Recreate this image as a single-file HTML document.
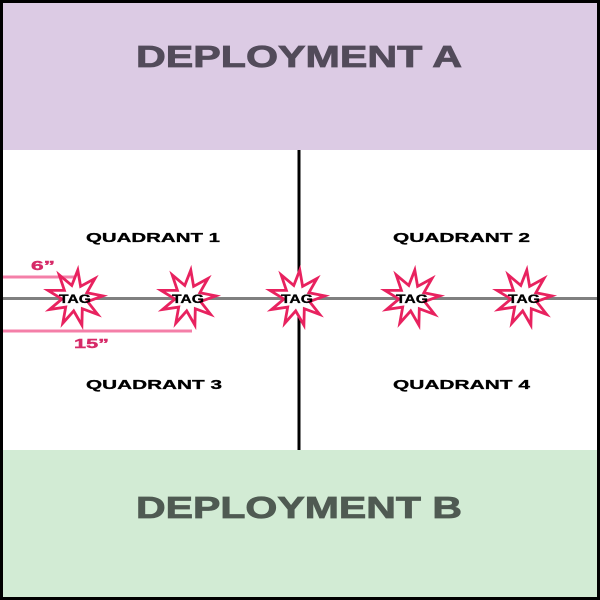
<!DOCTYPE html>
<html><head><style>body{margin:0;background:#fff}svg{display:block}</style></head><body>
<svg width="600" height="600" viewBox="0 0 600 600" xmlns="http://www.w3.org/2000/svg" font-family="Liberation Sans, sans-serif" font-weight="bold">
<rect x="0" y="0" width="600" height="150" fill="#dccbe4"/>
<rect x="0" y="450" width="600" height="150" fill="#d2ebd4"/>
<text x="136" y="67" font-size="31" fill="#524b5a" stroke="#524b5a" stroke-width="0.8" textLength="326" lengthAdjust="spacingAndGlyphs">DEPLOYMENT A</text>
<text x="136" y="518" font-size="31" fill="#4f5a52" stroke="#4f5a52" stroke-width="0.8" textLength="326" lengthAdjust="spacingAndGlyphs">DEPLOYMENT B</text>
<line x1="299" y1="150" x2="299" y2="450" stroke="#000" stroke-width="3"/>
<line x1="0" y1="298.5" x2="600" y2="298.5" stroke="#808080" stroke-width="3"/>
<line x1="3" y1="277" x2="77" y2="277" stroke="#f47fa8" stroke-width="3"/>
<line x1="3" y1="331" x2="192" y2="331" stroke="#f47fa8" stroke-width="3"/>
<text x="31" y="270" font-size="13" fill="#d62a68" stroke="#d62a68" stroke-width="0.4" textLength="24" lengthAdjust="spacingAndGlyphs">6”</text>
<text x="74" y="348" font-size="13" fill="#d62a68" stroke="#d62a68" stroke-width="0.4" textLength="35" lengthAdjust="spacingAndGlyphs">15”</text>
<g font-size="13" fill="#000" stroke="#000" stroke-width="0.3">
<text x="86" y="242" textLength="134" lengthAdjust="spacingAndGlyphs">QUADRANT 1</text>
<text x="393" y="242" textLength="137" lengthAdjust="spacingAndGlyphs">QUADRANT 2</text>
<text x="86" y="389" textLength="136" lengthAdjust="spacingAndGlyphs">QUADRANT 3</text>
<text x="393" y="389" textLength="137" lengthAdjust="spacingAndGlyphs">QUADRANT 4</text>
</g>
<g id="stars"></g>
<rect x="1.5" y="1.5" width="597" height="597" fill="none" stroke="#000" stroke-width="3"/>
</svg>
<script>
var g=document.getElementById('stars'),xs=[75,188,297,412,524],s='';
xs.forEach(function(cx){var cy=298,p=[],n=9;for(var i=0;i<2*n;i++){var r=i%2?13:28,a=Math.PI*i/n-Math.PI/2+0.1;p.push((cx+r*Math.cos(a)).toFixed(1)+','+(cy+r*Math.sin(a)).toFixed(1));}
s+='<polygon points="'+p.join(' ')+'" fill="#fff" stroke="#e8225f" stroke-width="2.8" stroke-linejoin="miter"/>';
s+='<text x="'+cx+'" y="303" text-anchor="middle" font-size="12" fill="#000" stroke="#000" stroke-width="0.3" textLength="32" lengthAdjust="spacingAndGlyphs">TAG</text>';});
g.innerHTML=s;
</script>
</body></html>
